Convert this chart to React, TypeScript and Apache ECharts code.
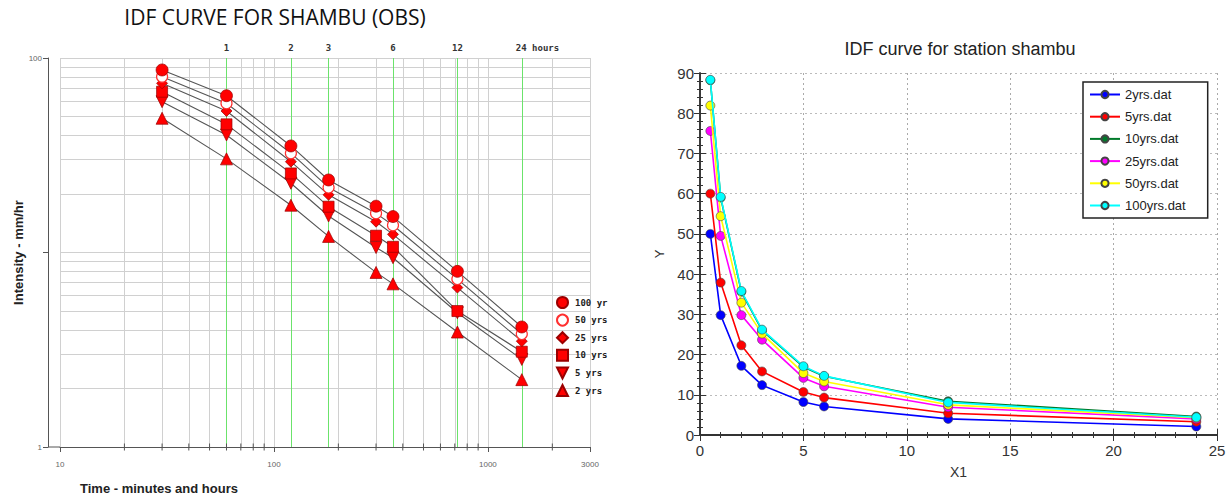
import React, { useEffect, useRef } from "react";
import * as echarts from "echarts";

// ---------- Left chart (observed, log-log) ----------
const durationsMin = [30, 60, 120, 180, 300, 360, 720, 1440];
const obs100 = [86.8, 64.0, 35.3, 23.6, 17.3, 15.3, 8.0, 4.14];
const obs50 = [80.2, 58.5, 32.4, 21.6, 15.9, 13.8, 7.3, 3.81];
const obs25 = [74.1, 53.4, 29.3, 19.8, 14.4, 12.4, 6.6, 3.5];
const obs10 = [67.1, 45.6, 25.5, 17.2, 12.2, 10.7, 5.0, 3.09];
const obs5 = [59.6, 40.2, 22.7, 15.4, 10.6, 9.4, 4.9, 2.82];
const obs2 = [49.0, 30.3, 17.5, 12.1, 7.9, 6.9, 3.9, 2.22];
const obsNames = ["100 yr", "50 yrs", "25 yrs", "10 yrs", "5 yrs", "2 yrs"];

const gridMinutes = [10, 20, 30, 40, 50, 60, 70, 80, 90, 100, 200, 300, 400, 500, 600, 700, 800, 900, 1000, 2000, 3000];
const minorTickMinutes = [20, 30, 40, 50, 60, 70, 80, 90, 200, 300, 400, 500, 600, 700, 800, 900, 2000];
const gridIntensity = [2, 3, 4, 5, 6, 7, 8, 9, 10, 20, 30, 40, 50, 60, 70, 80, 90, 100];
const hourLineMinutes = [60, 120, 180, 360, 720, 1440];
const hourLabels = ["1", "2", "3", "6", "12", "24 hours"];

// ---------- Right chart (linear) ----------
const hoursX = [0.5, 1, 2, 3, 5, 6, 12, 24];
const fit2 = [50.0, 29.8, 17.2, 12.4, 8.2, 7.1, 4.0, 2.1];
const fit5 = [60.0, 37.9, 22.3, 15.8, 10.7, 9.3, 5.4, 3.3];
const fit10 = [88.2, 59.0, 35.6, 26.0, 16.9, 14.6, 8.4, 4.6];
const fit25 = [75.6, 49.5, 29.8, 23.7, 14.2, 12.1, 6.9, 4.0];
const fit50 = [81.9, 54.4, 32.9, 25.2, 15.4, 13.3, 7.5, 4.3];
const fit100 = [88.3, 59.2, 35.8, 26.2, 17.1, 14.7, 8.1, 4.4];
const fitNames = ["2yrs.dat", "5yrs.dat", "10yrs.dat", "25yrs.dat", "50yrs.dat", "100yrs.dat"];
const fitColors = ["#0000ff", "#ff0000", "#007a2a", "#ff00ff", "#ffff00", "#00ffff"];

export default function App() {
  const ref = useRef<HTMLDivElement>(null);

  useEffect(() => {
    document.body.style.margin = "0";
    const chart = echarts.init(ref.current!, undefined, { renderer: "svg" });

    const obsSeriesData = [obs100, obs50, obs25, obs10, obs5, obs2];
    const symbols: any[] = [
      { symbol: "circle", size: 12, rotate: 0, fill: "#ff0000", icon: "circle" },
      { symbol: "circle", size: 11, rotate: 0, fill: "#ffffff", icon: "circle" },
      { symbol: "diamond", size: 11, rotate: 0, fill: "#ff0000", icon: "diamond" },
      { symbol: "rect", size: 11, rotate: 0, fill: "#ff0000", icon: "rect" },
      { symbol: "triangle", size: 12, rotate: 180, fill: "#ff0000", icon: "path://M0,0L10,0L5,10Z" },
      { symbol: "triangle", size: 12, rotate: 0, fill: "#ff0000", icon: "triangle" },
    ];

    const leftLines = obsSeriesData.map((vals, i) => ({
      type: "line",
      name: "fit" + i,
      xAxisIndex: 0,
      yAxisIndex: 0,
      data: durationsMin.map((d, j) => [d, vals[j]]),
      showSymbol: false,
      symbol: "none",
      silent: true,
      lineStyle: { color: "#555", width: 1.1 },
      z: 3,
    }));

    const leftMarkers = obsSeriesData.map((vals, i) => ({
      type: "scatter",
      name: obsNames[i],
      xAxisIndex: 0,
      yAxisIndex: 0,
      data: durationsMin.map((d, j) => [d, vals[j]]),
      symbol: symbols[i].symbol,
      symbolSize: symbols[i].size,
      symbolRotate: symbols[i].rotate,
      itemStyle: {
        color: symbols[i].fill,
        opacity: 1,
        borderColor: i === 1 ? "#ff3030" : "#9a0000",
        borderWidth: i === 1 ? 1.2 : 0.7,
      },
      z: 5 + (5 - i),
    }));

    const gridLineSeries = {
      type: "scatter",
      name: "gridlines",
      xAxisIndex: 0,
      yAxisIndex: 0,
      data: [],
      silent: true,
      z: 1,
      markLine: {
        z: 1,
        silent: true,
        symbol: ["none", "none"],
        label: { show: false },
        lineStyle: { color: "#d0d0d0", width: 1, type: "solid" },
        emphasis: { disabled: true },
        data: [
          ...gridMinutes.map((v) => ({ xAxis: v })),
          ...gridIntensity.map((v) => ({ yAxis: v })),
        ],
      },
    };

    const hourLineSeries = {
      type: "scatter",
      name: "hourlines",
      xAxisIndex: 0,
      yAxisIndex: 0,
      data: [],
      silent: true,
      z: 2,
      markLine: {
        z: 2,
        silent: true,
        symbol: ["none", "none"],
        lineStyle: { color: "#6be36b", width: 1, type: "solid" },
        emphasis: { disabled: true },
        label: {
          show: true,
          position: "end",
          distance: 6,
          fontFamily: "DejaVu Sans Mono",
          fontWeight: "bold",
          fontSize: 9,
          color: "#333",
        },
        data: hourLineMinutes.map((v, i) => ({
          xAxis: v,
          label:
            i === hourLabels.length - 1
              ? { formatter: hourLabels[i], align: "left", offset: [-6, 0] }
              : { formatter: hourLabels[i] },
        })),
      },
    };

    const minorTickSeries = {
      type: "scatter",
      name: "minorticks",
      xAxisIndex: 0,
      yAxisIndex: 0,
      data: minorTickMinutes.map((v) => [v, 1]),
      symbol: "rect",
      symbolSize: [1, 7],
      itemStyle: { color: "#555", opacity: 1 },
      silent: true,
      clip: false,
      z: 4,
    };

    const rightSeries = [fit2, fit5, fit10, fit25, fit50, fit100].map((vals, i) => ({
      type: "line",
      name: fitNames[i],
      xAxisIndex: 1,
      yAxisIndex: 1,
      data: hoursX.map((h, j) => [h, vals[j]]),
      symbol: "circle",
      symbolSize: 9,
      showAllSymbol: true,
      lineStyle: { color: fitColors[i], width: 1.6 },
      itemStyle: { color: fitColors[i], borderColor: "#444", borderWidth: 0.6 },
      z: 3 + i,
    }));

    const option: any = {
      animation: false,
      backgroundColor: "#ffffff",
      grid: [
        { left: 60, top: 58, width: 530, height: 389 },
        { left: 700, top: 73, width: 517, height: 362 },
      ],
      xAxis: [
        {
          type: "log",
          gridIndex: 0,
          logBase: 10,
          min: 10,
          max: 3000,
          axisLine: { show: true, lineStyle: { color: "#555", width: 1 } },
          axisTick: { show: true, length: 5, lineStyle: { color: "#555" } },
          axisLabel: {
            fontSize: 8,
            color: "#666",
            fontFamily: "Liberation Sans",
            margin: 13,
            formatter: (v: number) => String(Math.round(v)),
          },
          splitLine: { show: false },
        },
        {
          type: "value",
          gridIndex: 1,
          min: 0,
          max: 25,
          interval: 5,
          name: "X1",
          nameLocation: "middle",
          nameGap: 30,
          nameTextStyle: { fontSize: 14, color: "#333", fontFamily: "Liberation Sans" },
          axisLine: { show: true, lineStyle: { color: "#333", width: 1.6 } },
          axisTick: { show: true, inside: true, length: 6, lineStyle: { color: "#333" } },
          minorTick: { show: true, splitNumber: 5, length: 3, lineStyle: { color: "#333" } },
          axisLabel: { fontSize: 15, color: "#333", fontFamily: "Liberation Sans", margin: 8 },
          splitLine: { show: true, lineStyle: { color: "#aaa", type: [2, 3], width: 1 } },
        },
        {
          type: "value",
          gridIndex: 1,
          position: "top",
          min: 0,
          max: 25,
          interval: 5,
          axisLine: { show: true, lineStyle: { color: "#333", width: 2 } },
          axisTick: { show: true, inside: true, length: 6, lineStyle: { color: "#333" } },
          minorTick: { show: true, splitNumber: 5, length: 3, lineStyle: { color: "#333" } },
          axisLabel: { show: false },
          splitLine: { show: false },
        },
      ],
      yAxis: [
        {
          type: "log",
          gridIndex: 0,
          logBase: 10,
          min: 1,
          max: 100,
          offset: 12,
          name: "Intensity - mm/hr",
          nameLocation: "middle",
          nameRotate: 90,
          nameGap: 22,
          nameTextStyle: { fontSize: 13, fontWeight: "bold", color: "#222", fontFamily: "Liberation Sans" },
          axisLine: { show: true, lineStyle: { color: "#555", width: 1 } },
          axisTick: { show: true, length: 5, lineStyle: { color: "#555" } },
          axisLabel: {
            fontSize: 8,
            color: "#666",
            fontFamily: "Liberation Sans",
            margin: 6,
            formatter: (v: number) => (Math.abs(v - 10) < 0.01 ? "" : String(Math.round(v))),
          },
          splitLine: { show: false },
        },
        {
          type: "value",
          gridIndex: 1,
          min: 0,
          max: 90,
          interval: 10,
          name: "Y",
          nameLocation: "middle",
          nameRotate: 90,
          nameGap: 34,
          nameTextStyle: { fontSize: 13, color: "#333", fontFamily: "Liberation Sans" },
          axisLine: { show: true, lineStyle: { color: "#333", width: 1.6 } },
          axisTick: { show: true, inside: true, length: 6, lineStyle: { color: "#333" } },
          minorTick: { show: true, splitNumber: 5, length: 3, lineStyle: { color: "#333" } },
          axisLabel: { fontSize: 15, color: "#333", fontFamily: "Liberation Sans", margin: 6 },
          splitLine: { show: true, lineStyle: { color: "#bbb", type: [2, 3], width: 1 } },
        },
        {
          type: "value",
          gridIndex: 1,
          position: "right",
          min: 0,
          max: 90,
          interval: 10,
          axisLine: { show: true, lineStyle: { color: "#333", width: 1.6 } },
          axisTick: { show: true, inside: true, length: 6, lineStyle: { color: "#333" } },
          minorTick: { show: true, splitNumber: 5, length: 3, lineStyle: { color: "#333" } },
          axisLabel: { show: false },
          splitLine: { show: false },
        },
      ],
      legend: [
        {
          data: obsNames.map((n, i) => ({ name: n, icon: symbols[i].icon })),
          orient: "vertical",
          left: 556,
          top: 296,
          itemWidth: 11,
          itemHeight: 11,
          itemGap: 4.6,
          selectedMode: false,
          padding: 0,
          z: 6,
          textStyle: { fontFamily: "DejaVu Sans Mono", fontWeight: "bold", fontSize: 9, color: "#222", padding: [0, 0, 0, 2] },
        },
        {
          data: fitNames,
          orient: "vertical",
          left: 1083,
          top: 82,
          itemWidth: 30,
          itemHeight: 9,
          itemGap: 9.2,
          selectedMode: false,
          backgroundColor: "#ffffff",
          borderColor: "#222",
          borderWidth: 1.5,
          padding: [6, 22, 6, 6],
          textStyle: { fontFamily: "Liberation Sans", fontSize: 13, color: "#222" },
        },
      ],
      graphic: [
        {
          type: "text",
          x: 275,
          y: 6,
          style: {
            text: "IDF CURVE FOR SHAMBU (OBS)",
            fontFamily: "Open Sans",
            fontSize: 21,
            fill: "#111",
            textAlign: "center",
          },
        },
        {
          type: "text",
          x: 960,
          y: 40,
          style: {
            text: "IDF curve for station shambu",
            fontFamily: "Liberation Sans",
            fontSize: 18,
            fill: "#222",
            textAlign: "center",
          },
        },
        {
          type: "text",
          x: 80,
          y: 482,
          style: {
            text: "Time - minutes and hours",
            fontFamily: "Liberation Sans",
            fontWeight: "bold",
            fontSize: 13,
            fill: "#222",
          },
        },
        {
          type: "line",
          shape: { x1: 48, y1: 447, x2: 60, y2: 447 },
          style: { stroke: "#555", lineWidth: 1 },
        },
      ],
      series: [gridLineSeries, hourLineSeries, minorTickSeries, ...leftLines, ...leftMarkers, ...rightSeries],
    };

    chart.setOption(option);
    return () => chart.dispose();
  }, []);

  return <div ref={ref} style={{ width: 1231, height: 501 }} />;
}
